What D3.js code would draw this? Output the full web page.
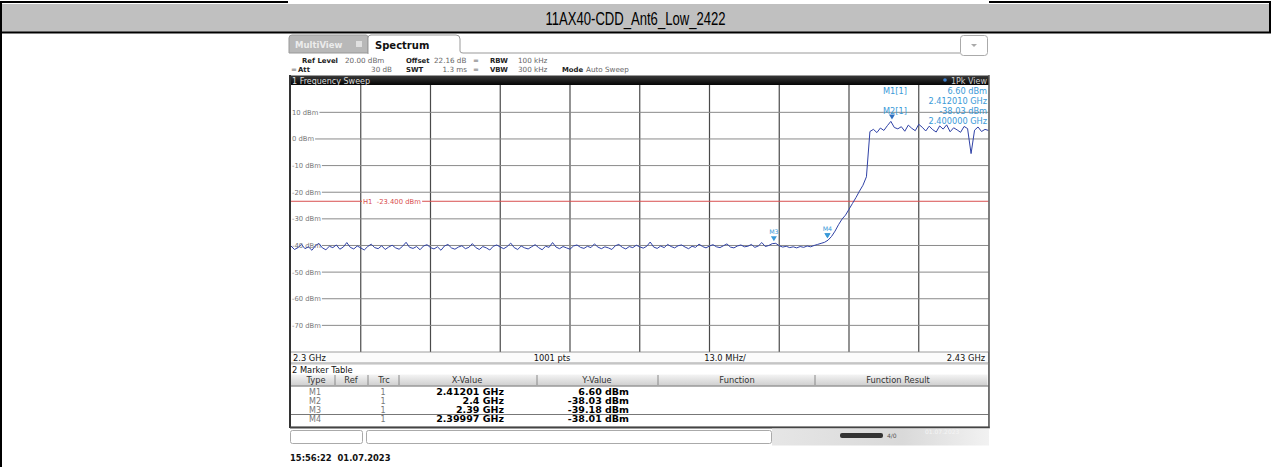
<!DOCTYPE html>
<html><head><meta charset="utf-8">
<script src="https://cdn.jsdelivr.net/npm/d3@7/dist/d3.min.js"></script>
<style>body{margin:0;background:#fff}svg{display:block}text{white-space:pre}</style>
</head><body><svg id="c" width="1271" height="467"></svg>
<script>
// ---------------- data ----------------
const chartTitle = "11AX40-CDD_Ant6_Low_2422";
const startFreqGHz = 2.3, stopFreqGHz = 2.43, spanPerDivGHz = 0.013;
const refLevel = 20, bottomLevel = -80;
const levelTicks = [10, 0, -10, -20, -30, -40, -50, -60, -70];
const levelTickLabels = ["10 dBm","0 dBm","-10 dBm","-20 dBm","-30 dBm","-40 dBm","-50 dBm","-60 dBm","-70 dBm"];
const limitValue = -23.4;
const limitLabel = "H1  -23.400 dBm";
const traceLevels = [
-40.2,-41.5,-40.8,-39.6,-41.2,-40.5,-41.8,-40.1,-39.2,-40.9,-41.6,-40.3,-40.8,-39.8,-41.4,-40.6,-38.9,-40.7,-41.3,-40.2,
-40.9,-41.7,-40.4,-39.5,-40.8,-41.2,-40.1,-41.5,-40.6,-39.9,-40.9,-41.4,-40.3,-38.8,-40.7,-41.1,-40.4,-41.6,-40.2,-39.7,
-40.8,-41.3,-40.5,-41.8,-40.2,-39.6,-40.9,-41.4,-40.6,-40.1,-41.2,-40.7,-39.3,-40.8,-41.5,-40.4,-40.9,-41.7,-40.3,-39.8,
-40.6,-41.2,-40.4,-39.1,-40.8,-41.5,-40.2,-40.9,-41.3,-40.5,-39.7,-40.8,-41.6,-40.3,-40.7,-38.9,-40.6,-41.2,-40.4,-40.9,
-41.4,-40.2,-39.8,-40.7,-41.1,-40.3,-40.8,-39.4,-40.6,-41.2,-40.5,-40.9,-41.5,-40.1,-39.6,-40.7,-41.3,-40.4,-40.8,-39.9,
-40.5,-41.0,-40.3,-38.7,-40.6,-41.1,-40.2,-40.8,-39.6,-40.4,-40.9,-40.1,-39.8,-40.6,-41.2,-40.3,-40.7,-39.5,-40.4,-40.9,
-40.2,-39.7,-40.5,-40.8,-40.1,-39.4,-40.6,-40.9,-40.2,-39.8,-40.5,-40.3,-39.6,-40.7,-40.2,-38.9,-40.4,-40.0,-39.3,-39.2,
-40.1,-40.6,-40.3,-40.8,-40.5,-40.9,-40.4,-40.7,-40.2,-40.5,-40.0,-39.6,-39.2,-38.8,
-38.0,
-36.6,-34.6,-32.2,-30.1,-28.6,-26.4,-24.2,-22.0,-19.6,-17.4,-14.2,
2.8,3.6,2.4,4.1,3.2,5.0,6.6,4.3,3.8,4.6,
2.9,5.2,4.0,3.1,5.5,4.4,3.0,4.8,3.5,2.6,
4.9,3.7,5.3,2.7,4.2,3.4,2.5,4.7,3.9,-5.5,
3.3,4.5,2.8,3.6,3.2
];
const markerNames = ["M1","M2","M3","M4"];
const markerFreqs = [2.41201, 2.4, 2.39, 2.39997];
const markerLevels = [6.60, -38.03, -39.18, -38.01];
const markerRef = ["","","",""];
const markerTrc = ["1","1","1","1"];
const markerXText = ["2.41201 GHz","2.4 GHz","2.39 GHz","2.39997 GHz"];
const markerYText = ["6.60 dBm","-38.03 dBm","-39.18 dBm","-38.01 dBm"];
const tableColumns = ["Type","Ref","Trc","X-Value","Y-Value","Function","Function Result"];
const infoRow1 = [["Ref Level",1],["20.00 dBm",0],["Offset",1],["22.16 dB",0],["RBW",1],["100 kHz",0]];
const infoRow2 = [["Att",1],["30 dB",0],["SWT",1],["1.3 ms",0],["VBW",1],["300 kHz",0],["Mode",1],["Auto Sweep",0]];
const markerInfo = [["M1[1]","6.60 dBm"],["","2.412010 GHz"],["M2[1]","-38.03 dBm"],["","2.400000 GHz"]];
const sweepPoints = "1001 pts", spanLabel = "13.0 MHz/", startLabel = "2.3 GHz", stopLabel = "2.43 GHz";
const timestamp = "15:56:22  01.07.2023";

// ---------------- drawing ----------------
const svg = d3.select("#c");
const defs = svg.append("defs");
const F = "'DejaVu Sans', Verdana, sans-serif";
const PL = 290, PR = 988.5, PT = 85.7, PB = 352;
const x = d3.scaleLinear().domain([startFreqGHz, stopFreqGHz]).range([PL + 1, PR]);
const y = d3.scaleLinear().domain([bottomLevel, refLevel]).range([PB, PT]);

svg.append("rect").attr("width",1271).attr("height",467).attr("fill","#fff");

// outer report table
svg.append("line").attr("x1",0).attr("x2",288).attr("y1",2).attr("y2",2).attr("stroke","#000").attr("stroke-width",2);
svg.append("line").attr("x1",989).attr("x2",1271).attr("y1",2).attr("y2",2).attr("stroke","#000").attr("stroke-width",2);
svg.append("rect").attr("x",2).attr("y",4).attr("width",1267).attr("height",28).attr("fill","#c0c0c0");
svg.append("line").attr("x1",1).attr("x2",1).attr("y1",3).attr("y2",467).attr("stroke","#000").attr("stroke-width",2);
svg.append("line").attr("x1",1270).attr("x2",1270).attr("y1",3).attr("y2",33).attr("stroke","#000").attr("stroke-width",2);
svg.append("line").attr("x1",0).attr("x2",1271).attr("y1",32.5).attr("y2",32.5).attr("stroke","#000").attr("stroke-width",2);
svg.append("text").attr("x",635.5).attr("y",24.5).attr("text-anchor","middle")
  .attr("font-family","'Liberation Sans',Arial,sans-serif")
  .attr("font-size",17.5).attr("textLength",180).attr("lengthAdjust","spacingAndGlyphs")
  .attr("fill","#000").text(chartTitle);

// tabs
svg.append("path").attr("d","M289,53 L289,38 Q289,35 292,35 L366,35 Q368,35 368,38 L368,53 Z").attr("fill","#b8b8b8").attr("stroke","#999");
svg.append("text").attr("x",295).attr("y",48).attr("font-family",F).attr("font-weight","bold").attr("font-size",8.5).attr("fill","#ececec").text("MultiView");
svg.append("rect").attr("x",356).attr("y",41).attr("width",6).attr("height",6).attr("fill","#e0e0e0");
svg.append("path").attr("d","M368,54 L368,38 Q368,35 371,35 L456,35 Q460,35 460,39 L460,51 Q460,53 463,53 L960,53").attr("fill","#fff").attr("stroke","#999");
svg.append("text").attr("x",375).attr("y",48.5).attr("font-family",F).attr("font-weight","bold").attr("font-size",10).attr("fill","#111").text("Spectrum");
svg.append("rect").attr("x",960.5).attr("y",35.5).attr("width",27).attr("height",20).attr("rx",3).attr("fill","#fff").attr("stroke","#aaa");
svg.append("path").attr("d","M971,44 L977,44 L974,47 Z").attr("fill","#aaa");

// info rows
function infoRow(items, xs, anchors, yy){
  items.forEach((d,i)=>{
    svg.append("text").attr("x",xs[i]).attr("y",yy).attr("text-anchor",anchors[i]).attr("font-family",F)
      .attr("font-size",d[1]?6.9:7.2)
      .attr("font-weight",d[1]?"bold":"normal").attr("fill",d[1]?"#222":"#666").text(d[0]);
  });
}
infoRow(infoRow1,[302,345,406,434,490,518],["start","start","start","start","start","start"],63);
infoRow(infoRow2,[298,392,406,467,490,518,562,586],["start","end","start","end","start","start","start","start"],71.5);
[[291,71.5],[473,63],[473,71.5]].forEach(p=>svg.append("text").attr("x",p[0]).attr("y",p[1]).attr("font-family",F).attr("font-size",7).attr("fill","#666").text("="));

// black title bar
const bg = defs.append("linearGradient").attr("id","bar").attr("x1",0).attr("x2",0).attr("y1",0).attr("y2",1);
bg.append("stop").attr("offset","0").attr("stop-color","#3a3a3a");
bg.append("stop").attr("offset","1").attr("stop-color","#050505");
svg.append("rect").attr("x",289).attr("y",75.5).attr("width",700).attr("height",9.5).attr("fill","url(#bar)");
svg.append("text").attr("x",292).attr("y",83.5).attr("font-family",F).attr("font-size",8).attr("fill","#ddd").text("1 Frequency Sweep");
svg.append("circle").attr("cx",945).attr("cy",80).attr("r",1.8).attr("fill","#3a7fd0");
svg.append("text").attr("x",987).attr("y",83.5).attr("text-anchor","end").attr("font-family",F).attr("font-size",8).attr("fill","#ccc").text("1Pk View");

// plot area
svg.append("rect").attr("x",PL).attr("y",85).attr("width",PR-PL).attr("height",PB-85).attr("fill","#fff");
const gridG = svg.append("g");
const gridFreqs = d3.range(1,10).map(k => startFreqGHz + k*spanPerDivGHz);
gridG.selectAll("line.v").data(gridFreqs).join("line").attr("class","v")
  .attr("x1",d=>x(d)).attr("x2",d=>x(d)).attr("y1",85).attr("y2",PB)
  .attr("stroke","#4a4a4a").attr("stroke-width",1.2);
const lg = svg.append("g").attr("font-family",F).attr("font-size",6.8).attr("fill","#777");
levelTicks.forEach((v,i)=>{
  const t = lg.append("text").attr("x",292).attr("y",y(v)+2.4).text(levelTickLabels[i]);
  const w = t.node().getComputedTextLength();
  gridG.append("line").attr("x1",292+w+1).attr("x2",PR).attr("y1",y(v)).attr("y2",y(v)).attr("stroke","#8a8a8a").attr("stroke-width",1);
});

// limit line
const limG = svg.append("g");
limG.append("line").attr("x1",PL).attr("x2",PR).attr("y1",y(limitValue)).attr("y2",y(limitValue)).attr("stroke","#d95050").attr("stroke-width",1);
const limBg = limG.append("rect").attr("fill","#fff");
const lt = limG.append("text").attr("x",363).attr("y",y(limitValue)+2.4).attr("font-family",F).attr("font-size",6.8).attr("fill","#d95050").text(limitLabel);
const bb = lt.node().getBBox();
limBg.attr("x",bb.x-1).attr("y",bb.y+1).attr("width",bb.width+2).attr("height",bb.height-2);

// trace
const n = traceLevels.length;
const freqOf = i => startFreqGHz + i*(stopFreqGHz-startFreqGHz)/(n-1);
svg.append("path").datum(traceLevels)
  .attr("d", d3.line().x((d,i)=>x(freqOf(i))).y(d=>y(d)))
  .attr("fill","none").attr("stroke","#3042a6").attr("stroke-width",1);

// markers
const mc = "#3a9ad8";
markerNames.forEach((m,i)=>{
  const mx = x(markerFreqs[i]), my = y(markerLevels[i]) - 2;
  svg.append("path").attr("d",`M${mx-3},${my-5} L${mx+3},${my-5} L${mx},${my} Z`).attr("fill", i===0?"#2f6fc0":mc);
  if (m === "M3" || m === "M4")
    svg.append("text").attr("x",mx).attr("y",my-7).attr("text-anchor","middle").attr("font-family",F).attr("font-size",6.3).attr("fill",mc).text(m);
});
markerInfo.forEach((r,i)=>{
  const yy = 93.5 + i*10;
  if (r[0]) svg.append("text").attr("x",883).attr("y",yy).attr("font-family",F).attr("font-size",8.2).attr("fill",mc).text(r[0]);
  svg.append("text").attr("x",987).attr("y",yy).attr("text-anchor","end").attr("font-family",F).attr("font-size",8.2).attr("fill",mc).text(r[1]);
});

// x-axis annotation bar
svg.append("rect").attr("x",PL).attr("y",PB).attr("width",PR-PL).attr("height",11).attr("fill","#fbfbfb").attr("stroke","#888").attr("stroke-width",0.8);
const ab = svg.append("g").attr("font-family",F).attr("font-size",8.3).attr("fill","#111");
ab.append("text").attr("x",293).attr("y",360.5).text(startLabel);
ab.append("text").attr("x",552).attr("y",360.5).attr("text-anchor","middle").text(sweepPoints);
ab.append("text").attr("x",725).attr("y",360.5).attr("text-anchor","middle").text(spanLabel);
ab.append("text").attr("x",985).attr("y",360.5).attr("text-anchor","end").text(stopLabel);

// marker table
svg.append("rect").attr("x",PL).attr("y",364).attr("width",PR-PL).attr("height",63).attr("fill","#fff").attr("stroke","#bbb");
svg.append("text").attr("x",292).attr("y",372.5).attr("font-family",F).attr("font-size",8.3).attr("fill","#111").text("2 Marker Table");
const hg = defs.append("linearGradient").attr("id","hdr").attr("x1",0).attr("x2",0).attr("y1",0).attr("y2",1);
hg.append("stop").attr("offset","0").attr("stop-color","#f4f4f4");
hg.append("stop").attr("offset","1").attr("stop-color","#cfcfcf");
svg.append("rect").attr("x",PL+1).attr("y",374.5).attr("width",PR-PL-2).attr("height",11).attr("fill","url(#hdr)");
svg.append("line").attr("x1",PL).attr("x2",PR).attr("y1",386).attr("y2",386).attr("stroke","#666");
svg.append("line").attr("x1",PL).attr("x2",PR).attr("y1",414.5).attr("y2",414.5).attr("stroke","#777");
const colDiv = [335, 368, 399, 537, 658, 815];
colDiv.forEach(cx=>svg.append("line").attr("x1",cx).attr("x2",cx).attr("y1",375).attr("y2",385).attr("stroke","#888"));
const colCenters = [316, 351, 384, 467, 597, 737, 898];
tableColumns.forEach((c,i)=>svg.append("text").attr("x",colCenters[i]).attr("y",383.3).attr("text-anchor","middle")
  .attr("font-family",F).attr("font-size",8.3).attr("fill","#333").text(c));
markerNames.forEach((m,i)=>{
  const yy = 394.5 + i*9;
  svg.append("text").attr("x",315).attr("y",yy).attr("text-anchor","middle").attr("font-family",F).attr("font-size",8).attr("fill","#777").text(m);
  svg.append("text").attr("x",351).attr("y",yy).attr("text-anchor","middle").attr("font-family",F).attr("font-size",8).attr("fill","#777").text(markerRef[i]);
  svg.append("text").attr("x",383).attr("y",yy).attr("text-anchor","middle").attr("font-family",F).attr("font-size",8).attr("fill","#777").text(markerTrc[i]);
  svg.append("text").attr("x",504).attr("y",yy).attr("text-anchor","end").attr("font-family",F).attr("font-weight","bold").attr("font-size",9.5).attr("fill","#000").text(markerXText[i]);
  svg.append("text").attr("x",629).attr("y",yy).attr("text-anchor","end").attr("font-family",F).attr("font-weight","bold").attr("font-size",9.5).attr("fill","#000").text(markerYText[i]);
});

// frame borders
svg.append("line").attr("x1",PL).attr("x2",PL).attr("y1",75).attr("y2",428).attr("stroke","#333").attr("stroke-width",2);
svg.append("line").attr("x1",PR+0.5).attr("x2",PR+0.5).attr("y1",75).attr("y2",428).attr("stroke","#555").attr("stroke-width",1.5);
svg.append("line").attr("x1",PL).attr("x2",PR+1).attr("y1",427.5).attr("y2",427.5).attr("stroke","#444").attr("stroke-width",2);

// bottom status boxes
svg.append("rect").attr("x",290.5).attr("y",430.5).attr("width",72).attr("height",13).attr("rx",2).attr("fill","#fff").attr("stroke","#aaa");
svg.append("rect").attr("x",366.5).attr("y",430.5).attr("width",405).attr("height",13).attr("rx",2).attr("fill","#fff").attr("stroke","#aaa");
const sg = defs.append("linearGradient").attr("id","st").attr("x1",0).attr("x2",1).attr("y1",0).attr("y2",0);
sg.append("stop").attr("offset","0").attr("stop-color","#e6e6e6");
sg.append("stop").attr("offset","0.6").attr("stop-color","#d9d9d9");
sg.append("stop").attr("offset","1").attr("stop-color","#f2f2f2");
svg.append("rect").attr("x",772).attr("y",428.5).attr("width",217).attr("height",17).attr("fill","url(#st)");
svg.append("rect").attr("x",840).attr("y",433).attr("width",43).attr("height",5).attr("rx",2).attr("fill","#333");
svg.append("text").attr("x",887).attr("y",438).attr("font-family",F).attr("font-size",6).attr("fill","#555").text("4/0");
svg.append("text").attr("x",925).attr("y",434).attr("font-family",F).attr("font-size",6).attr("fill","#f5f5f5").text("01.07.2023");
svg.append("text").attr("x",290).attr("y",461).attr("font-family",F).attr("font-weight","bold").attr("font-size",8.4).attr("fill","#111").text(timestamp);
</script></body></html>
